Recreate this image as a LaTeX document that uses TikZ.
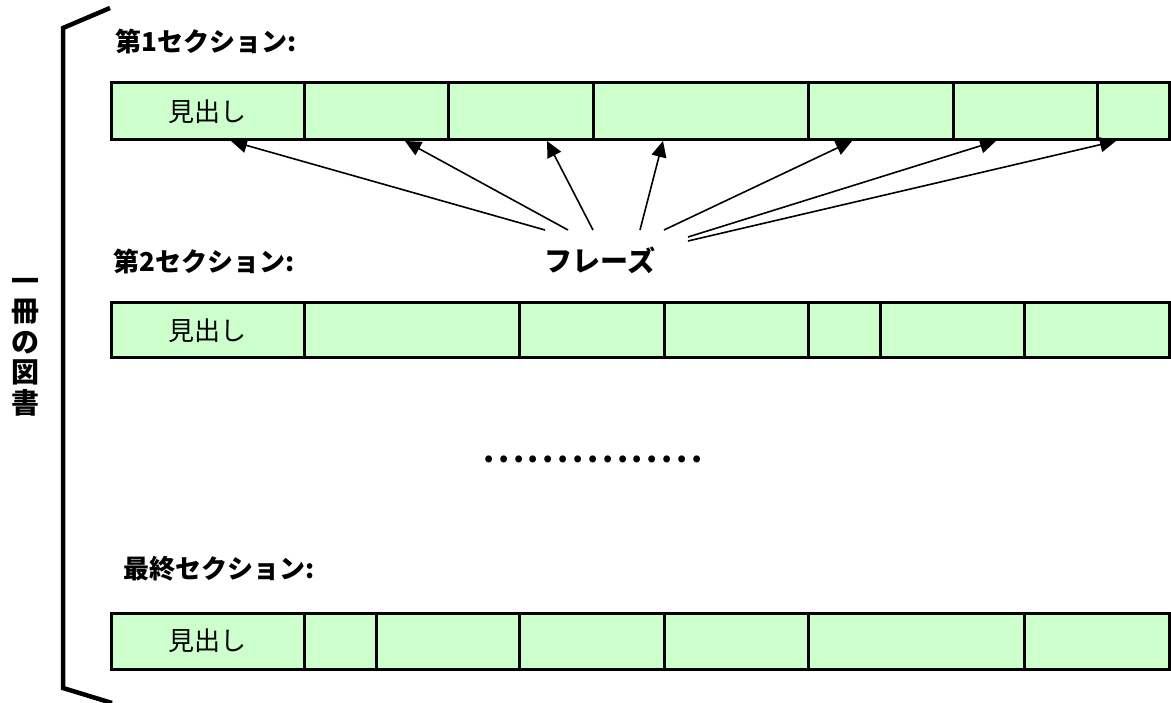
\documentclass[tikz,border=0pt]{standalone}
\usepackage{fontspec}
\newfontfamily\jp{Noto Sans CJK JP}
\usetikzlibrary{arrows.meta}
\definecolor{cellgreen}{HTML}{CCFFCC}
\newcommand\dotcell{\makebox[14.86pt]{.}}
\begin{document}
\begin{tikzpicture}[x=1pt,y=-1pt,
  cell/.style={draw=black, line width=3pt, fill=cellgreen, inner sep=0pt, outer sep=0pt,
    font=\jp\fontsize{26}{26}\selectfont},
  seclabel/.style={anchor=west, inner sep=0pt, font=\jp\bfseries\fontsize{26}{26}\selectfont},
  arr/.style={line width=1.6pt, -{Triangle[length=16pt,width=15pt]}},
  bracket/.style={line width=4.5pt, line join=miter}]
\useasboundingbox (0,0) rectangle (1171,703);

% bracket
\coordinate (b1) at (110,8);
\coordinate (b2) at (63,28);
\coordinate (b3) at (63,688);
\coordinate (b4) at (112,703);
\draw[bracket] (b1) -- (b2) -- (b3) -- (b4);

% vertical label
\node[inner sep=0pt, align=center, font=\jp\bfseries\fontsize{28}{30.5}\selectfont] (book) at (26,347)
  {一\\冊\\の\\図\\書};

% section labels
\node[seclabel] (sec1) at (115,41) {第1セクション:};
\node[seclabel] (sec2) at (113,261) {第2セクション:};
\node[seclabel] (sec3) at (123,569) {最終セクション:};

% row 1
\foreach \ca/\cb/\nm in {111/304/r1c1, 304/448/r1c2, 448/593/r1c3, 593/808/r1c4, 808/953/r1c5, 953/1097/r1c6, 1097/1169/r1c7}
  \node[cell, minimum width={(\cb-\ca)*1pt}, minimum height=57pt] (\nm) at ({(\ca+\cb)/2},111.5) {};
\node[inner sep=0pt, font=\jp\fontsize{26}{26}\selectfont] (h1) at (r1c1) {見出し};

% row 2
\foreach \ca/\cb/\nm in {111/304/r2c1, 304/519/r2c2, 519/664/r2c3, 664/808/r2c4, 808/880/r2c5, 880/1024/r2c6, 1024/1169/r2c7}
  \node[cell, minimum width={(\cb-\ca)*1pt}, minimum height=55pt] (\nm) at ({(\ca+\cb)/2},330.5) {};
\node[inner sep=0pt, font=\jp\fontsize{26}{26}\selectfont] (h2) at (r2c1) {見出し};

% row 3
\foreach \ca/\cb/\nm in {111/304/r3c1, 304/376/r3c2, 376/519/r3c3, 519/664/r3c4, 664/808/r3c5, 808/1024/r3c6, 1024/1169/r3c7}
  \node[cell, minimum width={(\cb-\ca)*1pt}, minimum height=56pt] (\nm) at ({(\ca+\cb)/2},641) {};
\node[inner sep=0pt, font=\jp\fontsize{26}{26}\selectfont] (h3) at (r3c1) {見出し};

% dots
\node[inner sep=0pt, anchor=base, font=\jp\bfseries\fontsize{32}{32}\selectfont] (dots) at (593,463)
  {\dotcell\dotcell\dotcell\dotcell\dotcell\dotcell\dotcell\dotcell\dotcell\dotcell\dotcell\dotcell\dotcell\dotcell\dotcell};

% phrase label
\node[inner sep=0pt, font=\jp\bfseries\fontsize{28}{28}\selectfont] (phrase) at (600,260) {フレーズ};

% arrows
\coordinate (s1) at (545,230); \coordinate (e1) at (231,141);
\coordinate (s2) at (568,230); \coordinate (e2) at (405,141);
\coordinate (s3) at (593,230); \coordinate (e3) at (547,141);
\coordinate (s4) at (640,230); \coordinate (e4) at (663,141);
\coordinate (s5) at (664,230); \coordinate (e5) at (852,141);
\coordinate (s6) at (688,237); \coordinate (e6) at (996,141);
\coordinate (s7) at (688,241); \coordinate (e7) at (1116,141);
\foreach \i in {1,...,7} \draw[arr] (s\i) -- (e\i);
\end{tikzpicture}
\end{document}
